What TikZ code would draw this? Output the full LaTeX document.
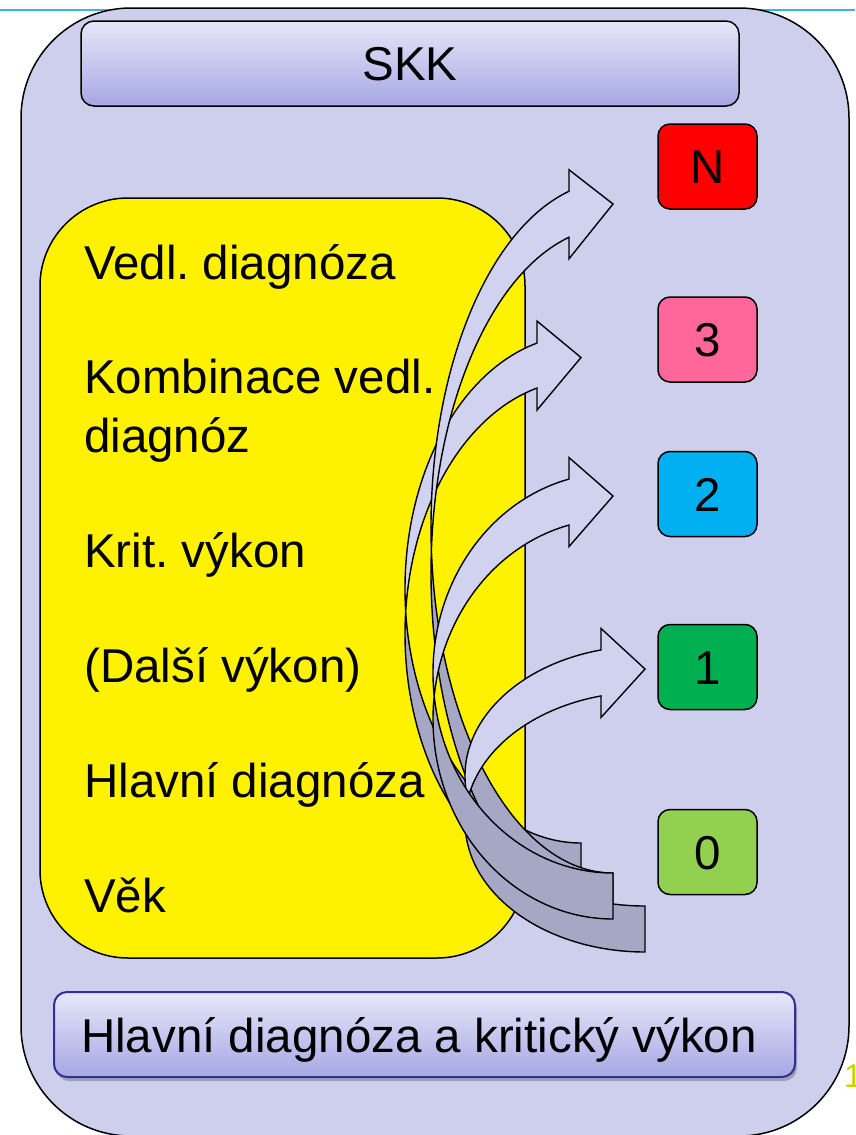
\documentclass[tikz,border=0pt]{standalone}
\usepackage{fontspec}
\setmainfont{Liberation Sans}
\usetikzlibrary{calc}
\frenchspacing

\definecolor{panelfill}{RGB}{206,207,237}
\definecolor{frontface}{RGB}{209,210,239}
\definecolor{backface}{RGB}{166,167,197}
\definecolor{titletop}{RGB}{231,231,249}
\definecolor{titlebottom}{RGB}{166,167,228}
\definecolor{footborder}{RGB}{46,49,146}
\definecolor{rulecolor}{RGB}{66,176,230}
\definecolor{pagenum}{RGB}{200,210,0}
\definecolor{levelN}{RGB}{255,0,0}
\definecolor{levelthree}{RGB}{255,102,153}
\definecolor{leveltwo}{RGB}{0,176,240}
\definecolor{levelone}{RGB}{0,176,80}
\definecolor{levelzero}{RGB}{146,208,80}

\newcommand{\bigtext}{\fontsize{47.5}{57}\selectfont}

\tikzset{
  outline/.style={draw=black, line width=1.5pt},
  panel/.style={outline, fill=panelfill, rounded corners=110pt,
    minimum width=828pt, minimum height=1128pt, inner sep=0pt},
  titlebox/.style={outline, rounded corners=13pt, top color=titletop,
    bottom color=titlebottom, minimum width=658pt, minimum height=85pt,
    inner sep=0pt, font=\bigtext, text height=34pt, text depth=0pt},
  footbox/.style={titlebox, draw=footborder, line width=2pt, minimum width=741pt},
  shadowbox/.style={rounded corners=13pt, minimum width=741pt, minimum height=85pt,
    inner sep=0pt, fill=black, fill opacity=0.22},
  levelbox/.style={outline, rounded corners=12pt, minimum width=99pt,
    minimum height=85pt, inner sep=0pt, font=\bigtext, text height=34pt, text depth=0pt},
  listbox/.style={outline, fill=yellow, rounded corners=88pt,
    minimum width=485pt, minimum height=760pt, inner sep=0pt},
  item/.style={anchor=base west, inner sep=0pt, font=\bigtext},
  frontpart/.style={draw=black, line width=1.4pt, fill=frontface},
  backpart/.style={draw=black, line width=1.4pt, fill=backface},
}

% Curved ribbon arrow made of two equal ellipses, one shifted up by the band width.
% #1 x of both ellipse centres (tail and tip), #2 horizontal radius,
% #3 vertical radius, #4 y of the lower ellipse centre, #5 band width, #6 name
\newcommand{\bentarrow}[6]{%
  \pgfmathsetmacro{\arrsplit}{asin(#5/(2*#3))}%
  \pgfmathsetmacro{\arrhead}{270-asin(44/#2)}%
  \pgfmathsetmacro{\arrupper}{#4-#5}%
  \pgfmathsetmacro{\arrflare}{(89-#5)/2}%
  \coordinate (#6-tail) at (#1,#4+#3);
  \coordinate (#6-split) at ($(#1,#4)+(180+\arrsplit:#2 and #3)$);
  \coordinate (#6-tip) at (#1,\arrupper-#3+#5/2);
  \coordinate (#6-inner) at ($(#1,#4)+(\arrhead:#2 and #3)$);
  \coordinate (#6-outer) at ($(#1,\arrupper)+(\arrhead:#2 and #3)$);
  % back face: tail end down to the crossing point
  \path[backpart] (#6-tail)
    arc[start angle=90, end angle=180+\arrsplit, x radius=#2, y radius=#3]
    arc[start angle=180-\arrsplit, end angle=90, x radius=#2, y radius=#3] -- cycle;
  % front face: crossing point up to the head
  \path[frontpart] (#6-split)
    arc[start angle=180+\arrsplit, end angle=\arrhead, x radius=#2, y radius=#3]
    -- ++(0,\arrflare) -- (#6-tip) -- ($(#6-outer)+(0,-\arrflare)$) -- (#6-outer)
    arc[start angle=\arrhead, end angle=180-\arrsplit, x radius=#2, y radius=#3] -- cycle;
}

\begin{document}
\begin{tikzpicture}[x=1pt,y=1pt,yscale=-1]
  \useasboundingbox (0,0) rectangle (855,1135);

  % header rule behind the panel
  \coordinate (ruleL) at (0,10);
  \coordinate (ruleR) at (855,10);
  \draw[rulecolor, line width=2.5pt] (ruleL) -- (ruleR);

  \node[panel] (panel) at (435,572) {};
  \node[titlebox] (skk) at (410,63.5) {SKK};

  % severity levels
  \node[levelbox, fill=levelN] (lvN) at (707.5,166.5) {N};
  \node[levelbox, fill=levelthree] (lv3) at (707.5,339.5) {3};
  \node[levelbox, fill=leveltwo] (lv2) at (707.5,494) {2};
  \node[levelbox, fill=levelone] (lv1) at (707.5,667) {1};
  \node[levelbox, fill=levelzero] (lv0) at (707.5,852) {0};

  % criteria list
  \node[listbox] (list) at (282.5,578) {};
  \node[item] (c1) at (84,279) {Vedl. diagnóza};
  \node[item] (c2) at (84,393) {Kombinace vedl.};
  \node[item] (c2b) at (84,452) {diagnóz};
  \node[item] (c3) at (84,567) {Krit. výkon};
  \node[item] (c4) at (84,682) {(Další výkon)};
  \node[item] (c5) at (84,797) {Hlavní diagnóza};
  \node[item] (c6) at (84,912) {Věk};

  % ribbon arrows, back to front
  \bentarrow{581}{176}{254}{634}{45}{a3}
  \bentarrow{613}{182}{346}{573}{46}{aN}
  \bentarrow{645}{180}{130}{822}{46}{a1}
  \bentarrow{613}{180}{200}{719}{46}{a2}

  % footer
  \node[shadowbox] (footshadow) at (426.5,1038.5) {};
  \node[footbox] (foot) at (424.5,1034.5) {};
  \node[anchor=base, inner sep=0pt, font=\bigtext] (foottext) at (419,1052)
    {Hlavní diagnóza a kritický výkon};

  \node[anchor=base west, inner sep=0pt, font=\fontsize{33}{40}\selectfont,
    text=pagenum] (pgno) at (844,1087) {1};
\end{tikzpicture}
\end{document}
